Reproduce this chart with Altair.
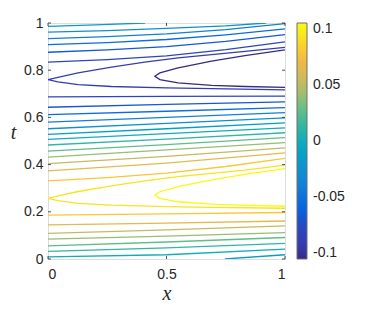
import altair as alt
import pandas as pd
import numpy as np

# contour level index (multiples of level step) and polyline points (x, t)
level_step = 0.0133
level_k = [-1, -2, -3, -4, -5, -6, -7, -8, -6, -5, -4, -3, -2, -1, 0, 1, 2, 3, 4, 5, 6,
           7, 8, 6, 5, 4, 3, 2, 1, 0, -1]
line_x = [
    [0, 0.2, 0.41],
    [0, 0.25, 0.5, 0.75, 0.92],
    [0, 0.25, 0.5, 0.75, 1],
    [0, 0.25, 0.5, 0.75, 1],
    [0, 0.25, 0.5, 0.75, 1],
    [0, 0.25, 0.5, 0.75, 1],
    [1, 0.831, 0.69, 0.549, 0.408, 0.268, 0.127, 0.042, 0, 0.042, 0.127, 0.268, 0.5, 0.69, 1],
    [1, 0.831, 0.69, 0.549, 0.472, 0.451, 0.472, 0.549, 0.69, 0.831, 1],
    [0, 0.5, 1],
    [0, 0.5, 1],
    [0, 0.5, 1],
    [0, 0.5, 1],
    [0, 0.5, 1],
    [0, 0.5, 1],
    [0, 0.5, 1],
    [0, 0.5, 1],
    [0, 0.5, 1],
    [0, 0.5, 1],
    [0, 0.5, 1],
    [0, 0.5, 1],
    [0, 0.25, 0.5, 0.75, 1],
    [1, 0.831, 0.69, 0.549, 0.408, 0.268, 0.127, 0.042, 0, 0.042, 0.127, 0.268, 0.5, 0.69, 1],
    [1, 0.831, 0.69, 0.549, 0.472, 0.451, 0.472, 0.549, 0.69, 0.831, 1],
    [0, 0.5, 1],
    [0, 0.5, 1],
    [0, 0.5, 1],
    [0, 0.5, 1],
    [0, 0.5, 1],
    [0, 0.5, 1],
    [0, 0.5, 1],
    [0.746, 1],
]
line_t = [
    [0.986, 0.992, 1.0],
    [0.961, 0.968, 0.977, 0.988, 1.0],
    [0.934, 0.942, 0.954, 0.972, 0.997],
    [0.908, 0.917, 0.930, 0.950, 0.975],
    [0.876, 0.886, 0.900, 0.922, 0.951],
    [0.834, 0.845, 0.861, 0.887, 0.920],
    [0.897, 0.880, 0.866, 0.852, 0.834, 0.813, 0.789, 0.770, 0.760, 0.7505, 0.739, 0.731, 0.725, 0.722, 0.717],
    [0.886, 0.862, 0.838, 0.810, 0.7886, 0.7745, 0.760, 0.746, 0.736, 0.731, 0.727],
    [0.687, 0.689, 0.690],
    [0.643, 0.655, 0.666],
    [0.612, 0.626, 0.641],
    [0.580, 0.600, 0.620],
    [0.552, 0.575, 0.598],
    [0.528, 0.552, 0.577],
    [0.507, 0.531, 0.556],
    [0.483, 0.508, 0.535],
    [0.457, 0.485, 0.514],
    [0.432, 0.462, 0.493],
    [0.404, 0.435, 0.471],
    [0.373, 0.406, 0.450],
    [0.331, 0.345, 0.364, 0.392, 0.426],
    [0.398, 0.377, 0.363, 0.349, 0.331, 0.310, 0.286, 0.267, 0.257, 0.2475, 0.236, 0.228, 0.222, 0.219, 0.215],
    [0.383, 0.359, 0.335, 0.307, 0.285, 0.271, 0.2565, 0.2425, 0.2325, 0.2275, 0.2235],
    [0.186, 0.191, 0.197],
    [0.145, 0.152, 0.161],
    [0.109, 0.123, 0.140],
    [0.084, 0.097, 0.112],
    [0.056, 0.072, 0.091],
    [0.032, 0.047, 0.066],
    [0.009, 0.018, 0.042],
    [0.0, 0.018],
]

x_ticks = [0, 0.5, 1]
t_ticks = [0, 0.2, 0.4, 0.6, 0.8, 1]
cbar_ticks = [-0.1, -0.05, 0, 0.05, 0.1]
cbar_range = [-0.105, 0.1055]

parula = ["#352a87", "#343daf", "#3242ba", "#1f4ec8", "#0564e2", "#0e70dd", "#1481d6",
          "#0f8fd1", "#069bc9", "#06a7c6", "#1eb1b0", "#38b99e", "#65be85", "#92bf73",
          "#bcbc63", "#d9ba56", "#f2b843", "#fcce2e", "#f5e71d", "#f9fb0e"]

rows = []
for i, (xs, ts) in enumerate(zip(line_x, line_t)):
    for j, (xv, tv) in enumerate(zip(xs, ts)):
        rows.append({"line": i, "order": j, "x": xv, "t": tv, "level": level_k[i] * level_step})
df = pd.DataFrame(rows)

W, H = 237, 236
PL, PT = 40, 15
LX = 249          # colorbar left edge, relative to plot origin
LW = 10           # colorbar thickness
dom = list(np.linspace(cbar_range[0], cbar_range[1], len(parula)))

xs_scale = alt.Scale(domain=[0, 1], nice=False)
ts_scale = alt.Scale(domain=[0, 1], nice=False)

lab = "format(datum.value, '~g')"
frame_col = "#6e6e6e"

lines = alt.Chart(df).mark_line(strokeWidth=1.3, interpolate="linear", clip=True).encode(
    x=alt.X("x:Q", scale=xs_scale,
            axis=alt.Axis(values=x_ticks, title="x", labelExpr=lab,
                          grid=False, ticks=False, domain=False, labelPadding=8,
                          labelFont="Liberation Sans", labelFontSize=14, labelColor="#262626",
                          titleFont="Liberation Serif", titleFontStyle="italic", titleFontWeight="normal",
                          titleFontSize=20, titleColor="#262626", titleBaseline="alphabetic",
                          titleX=W / 2, titleY=40)),
    y=alt.Y("t:Q", scale=ts_scale,
            axis=alt.Axis(values=t_ticks, title="t", labelExpr=lab, grid=False, ticks=False, domain=False,
                          labelPadding=5, labelFont="Liberation Sans", labelFontSize=14,
                          labelColor="#262626",
                          titleFont="Liberation Serif", titleFontStyle="italic", titleFontWeight="normal",
                          titleFontSize=20, titleColor="#262626", titleAngle=0,
                          titleBaseline="alphabetic", titleAlign="center", titleX=-35, titleY=115)),
    color=alt.Color("level:Q",
                    scale=alt.Scale(domain=dom, range=parula, interpolate="rgb", clamp=True),
                    legend=alt.Legend(orient="none", legendX=LX, legendY=0, title=None,
                                      direction="vertical", gradientLength=H, gradientThickness=LW,
                                      values=cbar_ticks, labelFont="Liberation Sans", labelFontSize=14,
                                      labelColor="#262626", labelOffset=6,
                                      gradientStrokeColor=frame_col, gradientStrokeWidth=1,
                                      labelExpr="datum.value == 0 ? '0' : (datum.value < 0 ? '-' : '') + format(abs(datum.value), '~g')")),
    detail="line:N",
    order="order:Q",
)

tx = pd.DataFrame({"v": x_ticks})
tt = pd.DataFrame({"v": t_ticks})
tc = pd.DataFrame({"v": cbar_ticks})
tick_col = "#262626"
tb = alt.Chart(tx).mark_rule(color=tick_col, strokeWidth=0.8).encode(
    x=alt.X("v:Q", scale=xs_scale), y=alt.value(H), y2=alt.value(H - 3))
ttop = alt.Chart(tx).mark_rule(color=tick_col, strokeWidth=0.8).encode(
    x=alt.X("v:Q", scale=xs_scale), y=alt.value(0), y2=alt.value(3))
tl = alt.Chart(tt).mark_rule(color=tick_col, strokeWidth=0.8).encode(
    y=alt.Y("v:Q", scale=ts_scale), x=alt.value(0), x2=alt.value(3))
tr = alt.Chart(tt).mark_rule(color=tick_col, strokeWidth=0.8).encode(
    y=alt.Y("v:Q", scale=ts_scale), x=alt.value(W), x2=alt.value(W - 3))
tcb = alt.Chart(tc).mark_rule(color=tick_col, strokeWidth=0.8, clip=False).encode(
    y=alt.Y("v:Q", scale=alt.Scale(domain=cbar_range, nice=False), axis=None),
    x=alt.value(LX + LW), x2=alt.value(LX + LW - 3))

base = alt.layer(lines, tb, ttop, tl, tr)
chart = alt.layer(base, tcb).resolve_scale(y="independent").properties(
    width=W, height=H,
    autosize=alt.AutoSizeParams(type="none"),
    padding={"left": PL, "top": PT, "right": 374 - 16 - PL - W, "bottom": 311 - 16 - PT - H},
).configure_view(stroke=frame_col, strokeWidth=1).configure(background="white")

chart.save("out.html", embed_options={"renderer": "svg", "actions": False})
